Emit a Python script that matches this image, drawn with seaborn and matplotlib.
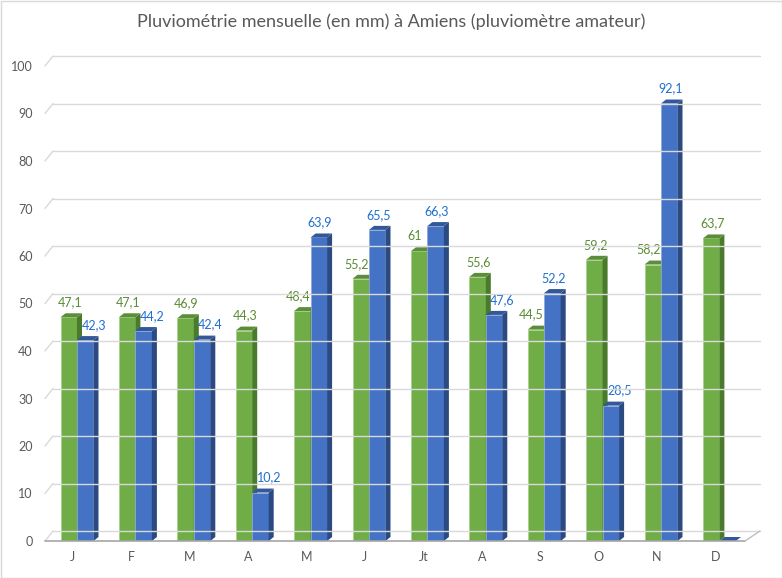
import matplotlib
matplotlib.use("Agg")
import matplotlib.pyplot as plt
import seaborn as sns
import pandas as pd
import numpy as np
from matplotlib.patches import Polygon, Rectangle
from matplotlib.lines import Line2D
from matplotlib.transforms import IdentityTransform, ScaledTranslation

# ---- data ----
mois = ["J", "F", "M", "A", "M", "J", "Jt", "A", "S", "O", "N", "D"]
serie_a = [47.1, 47.1, 46.9, 44.3, 48.4, 55.2, 61, 55.6, 44.5, 59.2, 58.2, 63.7]
serie_b = [42.3, 44.2, 42.4, 10.2, 63.9, 65.5, 66.3, 47.6, 52.2, 28.5, 92.1, 0]
y_ticks = [0, 10, 20, 30, 40, 50, 60, 70, 80, 90, 100]
titre = "Pluviométrie mensuelle (en mm) à Amiens (pluviomètre amateur)"

sns.set_theme(style="white")
plt.rcParams["font.family"] = ["Lato", "DejaVu Sans"]

W, H = 782, 578
fig = plt.figure(figsize=(W / 100, H / 100), dpi=100)

# axes placement in pixels (front plane)
left_px, right_px = 45, 745
bottom_px, top_px = 541, 66
ax = fig.add_axes([left_px / W, (H - bottom_px) / H,
                   (right_px - left_px) / W, (bottom_px - top_px) / H])

idx = list(range(len(mois)))
df = pd.DataFrame({
    "k": idx * 2,
    "val": serie_a + serie_b,
    "serie": ["a"] * len(mois) + ["b"] * len(mois),
})
GREEN, BLUE = "#70AD47", "#4472C4"
sns.barplot(data=df, x="k", y="val", hue="serie", palette=[GREEN, BLUE],
            saturation=1, width=0.565, legend=False, ax=ax,
            edgecolor=None, linewidth=0)

# x scale: group centre at pixel 77 + 58.4*i
px_per_x = 58.4
x0 = -(77 - left_px) / px_per_x
x1 = x0 + (right_px - left_px) / px_per_x
ax.set_xlim(x0, x1)
ax.set_ylim(0, 100)
for s in ax.spines.values():
    s.set_visible(False)
ax.set_yticks(y_ticks)
ax.set_yticklabels([str(v) for v in y_ticks])
ax.set_xticks(idx)
ax.set_xticklabels(mois)
ax.tick_params(axis="y", length=0, pad=9, labelsize=9, labelcolor="#595959")
ax.tick_params(axis="x", length=0, pad=7, labelsize=9, labelcolor="#595959")
for lab in ax.get_xticklabels():
    lab.set_transform(lab.get_transform() + ScaledTranslation(-4 / 100, 0, fig.dpi_scale_trans))
ax.set_xlabel("")
ax.set_ylabel("")
ax.grid(False)

fig.canvas.draw()
T = ax.transData

def disp(x, y):
    return T.transform((x, y))

# ---- back grid / floor (display px, origin bottom-left) ----
GRID = "#D9D9D9"
bx_l, bx_r = 53, 760  # back plane x in px (top-origin x same)
for v in y_ticks:
    fx, fy = disp(x0, v)
    byy = fy + 10
    col = GRID
    fig.add_artist(Line2D([fx, fx + 8], [fy, byy], color=col, lw=1.0,
                          transform=IdentityTransform(), zorder=0.5))
    fig.add_artist(Line2D([bx_l, bx_r], [byy, byy], color=col, lw=1.0,
                          transform=IdentityTransform(), zorder=0.5))
# floor front line + right diagonal
fx0, fy0 = disp(x0, 0)
fx1, _ = disp(x1, 0)
fig.add_artist(Line2D([fx0, fx1], [fy0, fy0], color="#A6A6A6", lw=1.2,
                      transform=IdentityTransform(), zorder=0.6))
fig.add_artist(Line2D([fx1, bx_r], [fy0, fy0 + 10], color="#BFBFBF", lw=1.0,
                      transform=IdentityTransform(), zorder=0.6))

# ---- 3D faces on bars ----
DX, DY = 5, 4
styles = {
    0: dict(side="#4A7A2C", top="#5C8E3A", edge="#A9D18E", txt="#5B8C36"),
    1: dict(side="#2B4A82", top="#33589A", edge="#8FAADC", txt="#1F6FCF"),
}
patches = list(ax.patches)
n = len(mois)
for j, p in enumerate(patches[: 2 * n]):
    h = j // n
    i = j % n
    st = styles[h]
    zb = 2 + h * 2
    p.set_zorder(zb)
    p.set_edgecolor(st["edge"])
    p.set_linewidth(0.6)
    xl = p.get_x()
    xr = xl + p.get_width()
    val = p.get_height()
    (ax_l, ay_b) = disp(xl, 0)
    (ax_r, ay_t) = disp(xr, val)
    side = Polygon([[ax_r, ay_b], [ax_r + DX, ay_b + DY], [ax_r + DX, ay_t + DY], [ax_r, ay_t]],
                   closed=True, facecolor=st["side"], edgecolor="none",
                   transform=IdentityTransform(), zorder=zb + 0.5, clip_on=False)
    top = Polygon([[ax_l, ay_t], [ax_l + DX, ay_t + DY], [ax_r + DX, ay_t + DY], [ax_r, ay_t]],
                  closed=True, facecolor=st["top"], edgecolor="none",
                  transform=IdentityTransform(), zorder=zb + 0.5, clip_on=False)
    ax.add_artist(side)
    ax.add_artist(top)

    # data labels
    if val > 0:
        other = serie_b[i] if h == 0 else serie_a[i]
        shift = 0
        if h == 0 and val < other:
            shift = -5.5
        elif h == 1 and val < other:
            shift = 7.5
        txt = f"{val:g}".replace(".", ",")
        cx = (ax_l + ax_r) / 2 + 1 + shift
        cy = ay_t + 15
        xd, yd = T.inverted().transform((cx, cy))
        ax.text(xd, yd, txt, ha="center", va="center", fontsize=9,
                color=st["txt"], zorder=10, clip_on=False)

fig.suptitle(titre, x=0.5, y=1 - 22 / H, va="center", fontsize=13, color="#595959")

# figure border
fig.add_artist(Rectangle((0.5, 0.5), W - 1, H - 1, fill=False, edgecolor="#D9D9D9",
                         lw=1.0, transform=IdentityTransform()))

fig.savefig("out.png", dpi=100)
